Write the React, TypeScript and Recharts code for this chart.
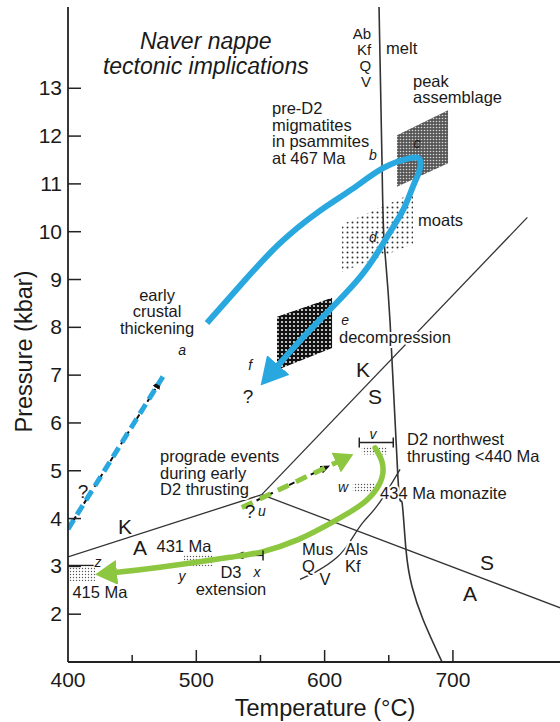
import React from "react";
import { ComposedChart, Line, Area, Scatter, XAxis, YAxis, Label } from "recharts";

const FONT = '"Liberation Sans", Arial, sans-serif';
const INK = "#222";
const BLUE = "#29A8E0";
const GREEN = "#8DC63F";

// axes
const bottomTicks = [400, 450, 500, 550, 600, 650, 700];
const topTicks = [450, 500, 550, 600, 650, 700, 750];
const pressureTicks = [2, 3, 4, 5, 6, 7, 8, 9, 10, 11, 12, 13];

// phase boundaries (T in °C, P in kbar)
const kyaniteAndalusite = [{ T: 400, P: 3.2 }, { T: 551, P: 4.5 }];
const andalusiteSillimanite = [{ T: 551, P: 4.5 }, { T: 785, P: 2.12 }];
const kyaniteSillimanite = [{ T: 551, P: 4.5 }, { T: 758, P: 10.3 }];
const meltCurve = [
  { T: 642.4, P: 14.7 },
  { T: 644.7, P: 11.5 },
  { T: 646.3, P: 9.83 },
  { T: 651, P: 8.11 },
  { T: 657.2, P: 4.82 },
  { T: 660.3, P: 4.34 },
  { T: 663.4, P: 3.35 },
  { T: 668.1, P: 2.58 },
  { T: 676.7, P: 1.89 },
  { T: 691.5, P: 1.0 },
];
const muscoviteCurve = [
  { T: 580.8, P: 2.73 },
  { T: 594.1, P: 2.9 },
  { T: 609.7, P: 3.19 },
  { T: 619.8, P: 3.52 },
  { T: 629.9, P: 3.92 },
  { T: 641.6, P: 4.29 },
  { T: 658.8, P: 5.03 },
];

// stippled fields: [low, high] pressure at each edge
const peakField = [{ T: 656.4, P: [10.94, 12.02] }, { T: 696.2, P: [11.43, 12.54] }];
const moatField = [{ T: 613.6, P: [9.16, 10.15] }, { T: 668.9, P: [9.74, 10.81] }];
const decompressionField = [{ T: 562.9, P: [7.11, 8.22] }, { T: 605.8, P: [7.57, 8.62] }];
const vField = [{ T: 629, P: [5.34, 5.51] }, { T: 649, P: [5.34, 5.51] }];
const wField = [{ T: 622, P: [4.55, 4.75] }, { T: 641, P: [4.55, 4.75] }];
const yField = [{ T: 490, P: [3.0, 3.25] }, { T: 513, P: [3.0, 3.25] }];
const zField = [{ T: 401, P: [2.69, 3.0] }, { T: 421, P: [2.69, 3.0] }];

// error bars
const vBar = [{ T: 627, P: 5.59 }, { T: 653.5, P: 5.59 }];
const d3Bar = [{ T: 552, P: 3.23 }, { T: 536, P: 3.23 }];
const zBar = [{ T: 400, P: 3.02 }, { T: 420, P: 3.02 }];

// P-T paths
const blueLoop = [
  { T: 508.3, P: 8.09 },
  { T: 538, P: 8.99 },
  { T: 565.2, P: 9.76 },
  { T: 594.9, P: 10.41 },
  { T: 621.4, P: 10.89 },
  { T: 645.5, P: 11.33 },
  { T: 666.6, P: 11.54 },
  { T: 674.4, P: 11.5 },
  { T: 673.6, P: 11.25 },
  { T: 668.9, P: 10.95 },
  { T: 661.1, P: 10.45 },
  { T: 648.6, P: 9.89 },
  { T: 627.6, P: 9.05 },
  { T: 591, P: 8.01 },
  { T: 562.9, P: 7.18 },
];
const blueEarly = [{ T: 400, P: 3.78 }, { T: 474, P: 6.97 }];
const blackEarly = [{ T: 400, P: 3.78 }, { T: 469, P: 6.75 }];
const greenProgradeDash = [{ T: 535.4, P: 4.23 }, { T: 610.4, P: 5.19 }];
const blackPrograde = [{ T: 538.5, P: 4.27 }, { T: 598, P: 5.03 }];
const greenReturn = [
  { T: 639.3, P: 5.48 },
  { T: 644.7, P: 5.19 },
  { T: 644.7, P: 4.86 },
  { T: 637.7, P: 4.52 },
  { T: 625.3, P: 4.23 },
  { T: 605.8, P: 3.92 },
  { T: 579.3, P: 3.56 },
  { T: 552, P: 3.31 },
  { T: 526.3, P: 3.19 },
  { T: 471.7, P: 2.98 },
  { T: 436.6, P: 2.87 },
];

// annotations
const titleNotes = [{ T: 507.4, P: 13.98, lines: ["Naver nappe", "tectonic implications"] }];
const leftNotes = [
  { T: 647.9, P: 13.84, lines: ["melt"] },
  { T: 668.9, P: 13.15, lines: ["peak", "assemblage"] },
  { T: 559, P: 12.58, lines: ["pre-D2", "migmatites", "in psammites", "at 467 Ma"] },
  { T: 672.8, P: 10.24, lines: ["moats"] },
  { T: 611.2, P: 7.8, lines: ["decompression"] },
  { T: 664.2, P: 5.65, lines: ["D2 northwest", "thrusting <440 Ma"] },
  { T: 471.7, P: 5.3, lines: ["prograde events", "during early", "D2 thrusting"] },
  { T: 643.2, P: 4.52, lines: ["434 Ma monazite"] },
  { T: 582.4, P: 3.35, lines: ["Mus", "Q"] },
  { T: 615.9, P: 3.35, lines: ["Als", "Kf"] },
];
const centerNotes = [
  { T: 469.4, P: 8.68, lines: ["early", "crustal", "thickening"] },
  { T: 490.4, P: 3.42, lines: ["431 Ma"] },
  { T: 527, P: 2.87, lines: ["D3", "extension"] },
  { T: 424.9, P: 2.46, lines: ["415 Ma"] },
  { T: 600.3, P: 2.73, lines: ["V"] },
];
const meltReactants = [{ T: 636.2, P: 14.15, lines: ["Ab", "Kf", "Q", "V"] }];
const phaseLetters = [
  { T: 629.9, P: 7.11, lines: ["K"] },
  { T: 639.3, P: 6.55, lines: ["S"] },
  { T: 444.4, P: 3.83, lines: ["K"] },
  { T: 456.1, P: 3.4, lines: ["A"] },
  { T: 726.6, P: 3.08, lines: ["S"] },
  { T: 713.3, P: 2.42, lines: ["A"] },
];
const pointLetters = [
  { T: 488.9, P: 7.53, lines: ["a"] },
  { T: 637.7, P: 11.6, lines: ["b"] },
  { T: 672, P: 11.85, lines: ["c"] },
  { T: 637.7, P: 9.89, lines: ["d"] },
  { T: 615.9, P: 8.16, lines: ["e"] },
  { T: 541.9, P: 7.22, lines: ["f"] },
  { T: 551.2, P: 4.15, lines: ["u"] },
  { T: 637.7, P: 5.76, lines: ["v"] },
  { T: 614.3, P: 4.65, lines: ["w"] },
  { T: 547.3, P: 2.87, lines: ["x"] },
  { T: 488.9, P: 2.79, lines: ["y"] },
  { T: 423.4, P: 3.08, lines: ["z"] },
];
const queryMarks = [
  { T: 540.3, P: 6.55, lines: ["?"] },
  { T: 411.7, P: 4.57, lines: ["?"] },
  { T: 541.9, P: 4.15, lines: ["?"] },
];

const textShape =
  (anchor: "start" | "middle" | "end", size: number, lineHeight: number, italic = false, halo = false) =>
  (props: any) => {
    const { cx, cy, payload } = props;
    return (
      <text
        textAnchor={anchor}
        fontSize={size}
        fontFamily={FONT}
        fontStyle={italic ? "italic" : "normal"}
        fill="#1a1a1a"
        stroke={halo ? "#fff" : "none"}
        strokeWidth={halo ? 4 : 0}
        strokeLinejoin="round"
        paintOrder="stroke"
      >
        {payload.lines.map((l: string, i: number) => (
          <tspan key={i} x={cx} y={cy + i * lineHeight + size * 0.35}>
            {l}
          </tspan>
        ))}
      </text>
    );
  };

const bottomTick = (props: any) => {
  const { x, y, payload } = props;
  const v = payload.value;
  const major = v % 100 === 0;
  return (
    <g>
      {v > 400 && <line x1={x} x2={x} y1={y} y2={y - (major ? 12 : 7)} stroke={INK} strokeWidth={1.5} />}
      {major && (
        <text x={x} y={y + 25} textAnchor="middle" fontSize={21} fontFamily={FONT} fill="#1a1a1a">
          {v}
        </text>
      )}
    </g>
  );
};

const topTick = (props: any) => {
  const { x, y, payload } = props;
  const major = payload.value % 100 === 0;
  return <line x1={x} x2={x} y1={y} y2={y + (major ? 13 : 7)} stroke={INK} strokeWidth={1.5} />;
};

const leftTick = (props: any) => {
  const { x, y, payload } = props;
  return (
    <g>
      <line x1={x} x2={x + 13} y1={y} y2={y} stroke={INK} strokeWidth={1.5} />
      <text x={x - 6} y={y + 7} textAnchor="end" fontSize={21} fontFamily={FONT} fill="#1a1a1a">
        {payload.value}
      </text>
    </g>
  );
};

const rightTick = (props: any) => {
  const { x, y } = props;
  return <line x1={x} x2={x - 10} y1={y} y2={y} stroke={INK} strokeWidth={1.5} />;
};

const capDot = (props: any) => (
  <line key={`cap-${props.index}`} x1={props.cx} x2={props.cx} y1={props.cy - 5} y2={props.cy + 5} stroke={INK} strokeWidth={1.5} />
);
const firstCapDot = (props: any) =>
  props.index === 0 ? capDot(props) : <g key={`cap-${props.index}`} />;

const axisLine = { stroke: INK, strokeWidth: 1.8 };
const phase = { stroke: "#333", strokeWidth: 1.3, dot: false as const, isAnimationActive: false, dataKey: "P" };

export default function App() {
  return (
    <div style={{ position: "absolute", left: 0, top: 0, width: 560, height: 722, overflow: "hidden", background: "#fff" }}>
      <ComposedChart width={567} height={722} margin={{ top: 7, right: 5, bottom: 0, left: 0 }}>
        <defs>
          <pattern id="peakDots" width="3" height="3" patternUnits="userSpaceOnUse">
            <rect width="3" height="3" fill="#575757" />
            <circle cx="1.5" cy="1.5" r="0.8" fill="#d8d8d8" />
          </pattern>
          <pattern id="denseDots" width="4" height="4" patternUnits="userSpaceOnUse">
            <rect width="4" height="4" fill="#111" />
            <circle cx="2" cy="2" r="1.1" fill="#e8e8e8" />
          </pattern>
          <pattern id="sparseDots" width="5" height="5" patternUnits="userSpaceOnUse">
            <circle cx="2.5" cy="2.5" r="1" fill="#333" />
          </pattern>
          <pattern id="fineDots" width="3" height="3" patternUnits="userSpaceOnUse">
            <circle cx="1.5" cy="1.5" r="0.7" fill="#555" />
          </pattern>
          <marker id="headBlue" viewBox="0 0 27 30" refX="2" refY="15" markerWidth="27" markerHeight="30" markerUnits="userSpaceOnUse" orient="auto">
            <path d="M0,0 L27,15 L0,30 Z" fill={BLUE} />
          </marker>
          <marker id="headGreen" viewBox="0 0 22 25" refX="2" refY="12.5" markerWidth="22" markerHeight="25" markerUnits="userSpaceOnUse" orient="auto">
            <path d="M0,0 L22,12.5 L0,25 Z" fill={GREEN} />
          </marker>
          <marker id="headGreenSmall" viewBox="0 0 19 22" refX="2" refY="11" markerWidth="19" markerHeight="22" markerUnits="userSpaceOnUse" orient="auto">
            <path d="M0,0 L19,11 L0,22 Z" fill={GREEN} />
          </marker>
          <marker id="headBlack" viewBox="0 0 10 8" refX="1" refY="4" markerWidth="10" markerHeight="8" markerUnits="userSpaceOnUse" orient="auto">
            <path d="M0,0 L10,4 L0,8 Z" fill="#111" />
          </marker>
        </defs>

        <XAxis
          type="number"
          dataKey="T"
          domain={[400, 785]}
          allowDataOverflow
          ticks={bottomTicks}
          interval={0}
          tickSize={0}
          tickMargin={0}
          tickLine={false}
          tick={bottomTick}
          height={60}
          axisLine={axisLine}
        >
          <Label
            content={(p: any) => {
              const vb = p.viewBox || { x: 68, y: 662, width: 494, height: 60 };
              return (
                <text x={vb.x + vb.width / 2 + 10} y={vb.y + 54} textAnchor="middle" fontSize={23.5} fontFamily={FONT} fill="#1a1a1a">
                  Temperature (°C)
                </text>
              );
            }}
          />
        </XAxis>
        <XAxis
          xAxisId="top"
          orientation="top"
          type="number"
          dataKey="T"
          domain={[400, 785]}
          allowDataOverflow
          ticks={topTicks}
          interval={0}
          tickSize={0}
          tickMargin={0}
          tickLine={false}
          tick={topTick}
          height={0}
          axisLine={{ stroke: INK, strokeWidth: 1.4 }}
        />
        <YAxis
          type="number"
          domain={[1, 14.7]}
          allowDataOverflow
          ticks={pressureTicks}
          interval={0}
          tickSize={0}
          tickMargin={0}
          tickLine={false}
          tick={leftTick}
          width={68}
          axisLine={axisLine}
        >
          <Label
            content={(p: any) => {
              const vb = p.viewBox || { x: 0, y: 7, width: 68, height: 655 };
              const cx = vb.x + 24;
              const cy = vb.y + vb.height / 2 + 17;
              return (
                <text transform={`translate(${cx},${cy}) rotate(-90)`} x={0} y={8} textAnchor="middle" fontSize={23.5} fontFamily={FONT} fill="#1a1a1a">
                  Pressure (kbar)
                </text>
              );
            }}
          />
        </YAxis>
        <YAxis
          yAxisId="right"
          orientation="right"
          type="number"
          domain={[1, 14.7]}
          allowDataOverflow
          ticks={pressureTicks}
          interval={0}
          tickSize={0}
          tickMargin={0}
          tickLine={false}
          tick={rightTick}
          width={0}
          axisLine={{ stroke: INK, strokeWidth: 1.4 }}
        />

        {/* stippled fields */}
        <Area data={peakField} dataKey="P" type="linear" stroke="none" fill="url(#peakDots)" fillOpacity={1} isAnimationActive={false} />
        <Area data={moatField} dataKey="P" type="linear" stroke="none" fill="url(#sparseDots)" fillOpacity={1} isAnimationActive={false} />
        <Area data={decompressionField} dataKey="P" type="linear" stroke="none" fill="url(#denseDots)" fillOpacity={1} isAnimationActive={false} />
        <Area data={vField} dataKey="P" type="linear" stroke="none" fill="url(#fineDots)" fillOpacity={1} isAnimationActive={false} />
        <Area data={wField} dataKey="P" type="linear" stroke="none" fill="url(#fineDots)" fillOpacity={1} isAnimationActive={false} />
        <Area data={yField} dataKey="P" type="linear" stroke="none" fill="url(#fineDots)" fillOpacity={1} isAnimationActive={false} />
        <Area data={zField} dataKey="P" type="linear" stroke="none" fill="url(#fineDots)" fillOpacity={1} isAnimationActive={false} />

        {/* reactions */}
        <Line data={kyaniteAndalusite} type="linear" {...phase} />
        <Line data={andalusiteSillimanite} type="linear" {...phase} />
        <Line data={kyaniteSillimanite} type="linear" {...phase} />
        <Line data={meltCurve} type="natural" {...phase} strokeWidth={1.6} />
        <Line data={muscoviteCurve} type="natural" {...phase} />

        {/* error bars */}
        <Line data={vBar} dataKey="P" type="linear" stroke={INK} strokeWidth={1.5} dot={capDot} isAnimationActive={false} />
        <Line data={d3Bar} dataKey="P" type="linear" stroke={INK} strokeWidth={1.5} dot={firstCapDot} markerEnd="url(#headBlack)" isAnimationActive={false} />
        <Line data={zBar} dataKey="P" type="linear" stroke={INK} strokeWidth={1.3} dot={false} isAnimationActive={false} />

        {/* text */}
        <Scatter data={titleNotes} dataKey="P" shape={textShape("middle", 23, 25, true)} isAnimationActive={false} />
        <Scatter data={leftNotes} dataKey="P" shape={textShape("start", 16.5, 16.5, false, true)} isAnimationActive={false} />
        <Scatter data={centerNotes} dataKey="P" shape={textShape("middle", 16.5, 16.5, false, true)} isAnimationActive={false} />
        <Scatter data={meltReactants} dataKey="P" shape={textShape("end", 15, 16.2, false, true)} isAnimationActive={false} />
        <Scatter data={phaseLetters} dataKey="P" shape={textShape("middle", 21, 21)} isAnimationActive={false} />
        <Scatter data={pointLetters} dataKey="P" shape={textShape("middle", 14, 14, true)} isAnimationActive={false} />
        <Scatter data={queryMarks} dataKey="P" shape={textShape("middle", 19, 19)} isAnimationActive={false} />

        {/* P-T paths */}
        <Line data={blackEarly} dataKey="P" type="linear" stroke="#111" strokeWidth={2} strokeDasharray="5 5" dot={false} markerEnd="url(#headBlack)" isAnimationActive={false} />
        <Line data={blueEarly} dataKey="P" type="linear" stroke={BLUE} strokeWidth={5} strokeDasharray="11 6" dot={false} isAnimationActive={false} />
        <Line data={blackPrograde} dataKey="P" type="linear" stroke="#111" strokeWidth={2} strokeDasharray="6 6" dot={false} markerEnd="url(#headBlack)" isAnimationActive={false} />
        <Line data={greenProgradeDash} dataKey="P" type="linear" stroke={GREEN} strokeWidth={5} strokeDasharray="12 8" dot={false} markerEnd="url(#headGreenSmall)" isAnimationActive={false} />
        <Line data={blueLoop} dataKey="P" type="natural" stroke={BLUE} strokeWidth={6} dot={false} markerEnd="url(#headBlue)" isAnimationActive={false} />
        <Line data={greenReturn} dataKey="P" type="natural" stroke={GREEN} strokeWidth={5.5} strokeLinecap="round" dot={false} markerEnd="url(#headGreen)" isAnimationActive={false} />
      </ComposedChart>
    </div>
  );
}
